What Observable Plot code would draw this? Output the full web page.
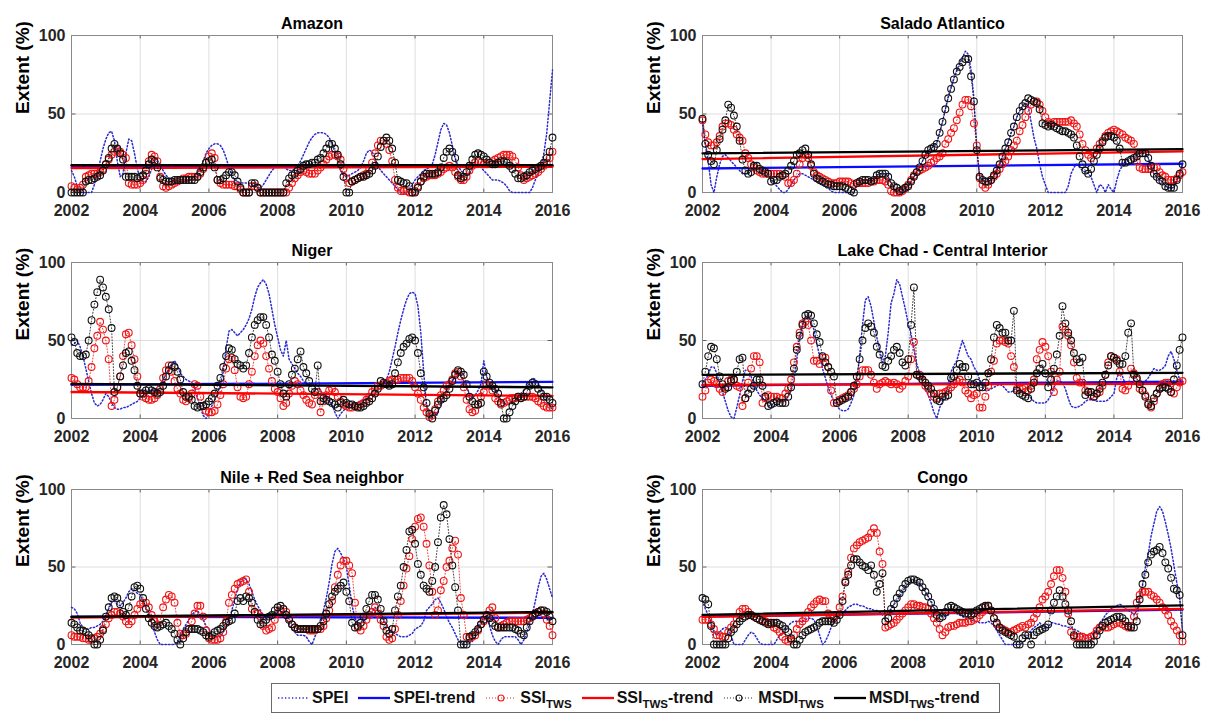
<!DOCTYPE html>
<html>
<head>
<meta charset="utf-8">
<script src="https://cdn.jsdelivr.net/npm/d3@7"></script>
<script src="https://cdn.jsdelivr.net/npm/@observablehq/plot@0.6"></script>
<style>
  body { margin: 0; background: #fff; }
  #chart { position: relative; width: 1214px; height: 719px; background: #fff; overflow: hidden;
           font-family: "Liberation Sans", Arial, Helvetica, sans-serif; }
  .panel { position: absolute; }
  #legend { position: absolute; left: 271px; top: 683px; width: 729px; height: 30px; box-sizing: border-box;
            border: 1px solid #6a6a6a; display: flex; align-items: center; padding-left: 4px;
            font-weight: bold; font-size: 16px; color: #111; white-space: nowrap; }
  #legend .item { display: inline-flex; align-items: center; margin-right: 9px; }
  #legend svg { margin-right: 2px; }
  #legend sub { font-size: 11.5px; vertical-align: -5px; line-height: 0; }
</style>
</head>
<body>
<div id="chart"></div>
<script>
// ---------------- data (monthly, Jan 2002 .. Jan 2016) ----------------
const startYear = 2002;
const yearTicks = [2002, 2004, 2006, 2008, 2010, 2012, 2014, 2016];
const extentTicks = [0, 50, 100];
const panelTitles = ["Amazon", "Salado Atlantico", "Niger", "Lake Chad - Central Interior", "Nile + Red Sea neighbor", "Congo"];

const amazonSPEI = [
14,10,4,0,0,0,0,0,5,12,20,28,
34,38,39,33,20,10,12,25,34,33,25,15,
9,7,7,10,15,19,20,18,14,11,9,8,
7,7,7,7,7,8,9,10,12,15,20,25,
28,30,31,31,30,27,22,16,11,8,7,6,
6,6,6,5,4,3,3,5,8,11,14,16,
17,18,17,15,14,14,15,17,20,24,28,32,
35,37,38,38,38,37,35,31,26,20,14,11,
10,11,12,13,14,16,20,25,27,26,22,17,
14,12,10,8,6,4,2,0,0,0,2,5,
8,10,12,14,15,16,18,24,32,40,44,43,
38,30,22,17,14,12,11,12,15,17,17,16,
14,12,10,8,8,8,7,6,4,1,0,0,
0,0,0,0,0,3,8,12,17,25,38,58,
78];
const amazonSSI = [
4,3,2,3,5,10,11,12,12,12,13,15,
18,21,24,26,27,26,24,22,6,5,5,5,
6,8,12,20,24,23,20,10,4,3,4,5,
6,7,8,9,9,10,10,10,10,12,15,19,
23,25,22,8,6,5,5,5,5,4,4,2,
0,0,0,4,4,3,0,0,0,0,0,0,
0,0,0,0,3,6,9,11,13,14,13,12,
12,12,14,16,18,21,23,24,24,23,21,15,
9,6,7,8,9,10,11,12,15,19,25,30,
33,33,31,27,20,8,3,1,1,1,0,0,
1,4,7,9,10,11,11,11,12,13,15,16,
17,16,13,10,8,8,10,14,17,19,20,19,
18,18,19,20,21,22,23,24,24,24,23,20,
16,11,8,9,10,11,12,13,15,17,19,22,
26];
const amazonMSDI = [
0,0,0,0,0,7,8,8,9,10,11,14,
18,22,28,31,28,25,21,10,10,10,10,9,
10,11,14,18,21,20,16,9,8,7,7,7,
8,8,8,8,8,8,8,8,10,13,16,19,
20,21,16,8,8,9,11,13,13,11,7,3,
0,0,0,6,6,3,0,0,0,0,0,0,
0,0,0,6,9,11,12,14,15,17,18,18,
19,19,21,22,25,28,31,31,28,24,18,10,
0,0,7,8,9,10,10,11,12,14,17,23,
29,33,35,33,28,19,8,7,6,6,4,0,
0,3,7,10,12,12,12,12,13,16,22,26,
28,26,22,11,9,10,13,17,21,24,25,24,
23,21,19,18,18,19,20,20,19,17,15,12,
9,9,10,11,13,14,15,16,17,19,22,26,
35];

const saladoSPEI = [
45,30,20,5,0,10,18,23,24,22,20,18,
16,14,12,12,12,14,16,16,15,14,13,12,
8,6,4,2,0,0,2,5,8,10,12,12,
11,10,9,8,7,6,5,4,3,1,0,0,
0,0,0,0,0,0,4,7,8,8,8,7,
8,11,12,12,12,10,6,3,0,0,1,3,
4,7,10,13,16,20,24,27,28,30,32,38,
45,53,61,67,73,78,82,86,90,88,78,60,
28,10,8,7,7,8,11,14,18,23,28,32,
38,42,48,52,55,57,55,45,35,28,18,10,
5,0,0,0,0,0,0,0,4,12,16,18,
16,14,13,12,10,5,0,5,4,0,5,2,
0,8,14,17,20,21,22,23,24,25,25,25,
22,17,12,10,8,7,4,3,3,3,8,12,
18];
const saladoSSI = [
46,37,32,30,30,32,36,42,44,44,43,40,
37,35,33,25,22,18,16,14,13,12,12,12,
12,12,12,12,11,10,6,6,8,12,18,22,
24,22,17,13,11,10,9,8,7,6,6,6,
7,7,7,7,6,5,6,6,6,6,6,7,
7,8,8,8,7,5,1,0,0,0,1,3,
5,8,11,13,14,15,16,17,19,20,22,23,
25,31,34,38,41,46,51,56,59,59,55,44,
30,9,5,3,5,8,10,12,15,18,20,23,
27,30,33,39,43,48,52,56,58,58,56,52,
48,45,44,45,45,45,45,45,45,46,44,42,
37,31,27,24,22,25,28,31,33,36,38,39,
40,39,38,37,35,34,33,31,20,16,15,15,
15,15,16,16,13,11,10,8,8,8,9,11,
13];
const saladoMSDI = [
47,31,24,20,18,27,34,40,46,56,54,49,
42,33,21,14,12,13,17,17,15,14,13,12,
7,8,8,10,11,12,14,17,20,24,25,27,
28,24,18,12,9,8,7,6,5,5,4,4,
4,4,3,2,1,0,6,7,8,8,8,7,
8,11,12,12,12,10,6,4,3,1,2,3,
4,7,10,13,16,20,24,27,28,29,31,38,
45,53,60,66,72,77,80,83,85,85,74,58,
27,10,8,7,7,8,11,14,18,23,28,32,
38,42,48,52,55,57,60,59,58,57,53,44,
43,42,43,42,41,40,39,39,38,37,35,30,
23,18,14,12,15,20,24,28,32,35,36,36,
35,33,28,19,19,20,21,22,23,25,25,25,
22,17,12,10,8,7,4,3,3,3,8,12,
18];

const nigerSPEI = [
47,48,50,46,40,32,24,16,10,8,9,12,
16,14,10,7,6,6,7,7,8,9,10,11,
13,15,17,18,18,18,20,22,25,28,32,35,
37,34,29,27,25,24,23,20,13,7,2,0,
4,8,12,16,22,30,45,56,57,55,53,55,
57,60,64,70,78,84,87,89,86,80,70,60,
52,44,40,50,38,35,32,29,27,24,22,21,
21,23,21,18,15,13,11,9,4,0,3,5,
7,8,9,10,10,11,12,13,15,17,19,21,
22,23,25,30,38,46,55,63,70,76,80,81,
80,72,55,30,8,1,0,0,4,9,14,18,
21,24,27,30,28,24,20,16,13,15,18,22,
37,27,22,20,18,15,12,10,9,9,10,12,
14,16,18,20,23,26,25,22,19,15,11,8,
6];
const nigerSSI = [
26,25,22,20,20,20,24,33,45,53,62,57,
50,38,8,12,20,27,40,54,55,47,38,27,
16,14,13,12,12,13,15,19,26,31,34,30,
24,19,16,12,11,13,16,22,21,14,8,5,
4,4,5,9,15,22,32,38,39,31,20,14,
13,14,22,30,40,47,50,48,40,32,24,19,
17,13,8,10,16,21,24,22,18,15,12,10,
9,15,17,4,11,15,18,19,17,14,11,9,
8,7,7,8,8,9,10,12,14,17,19,21,
21,22,23,24,25,25,25,26,26,26,26,24,
20,16,12,7,4,1,2,6,11,15,18,21,
22,25,29,30,27,20,12,6,4,5,9,14,
17,22,21,18,13,11,9,10,11,12,13,13,
14,14,14,14,14,14,13,11,10,8,7,7,
7];
const nigerMSDI = [
52,49,42,40,40,41,50,63,73,81,89,84,
78,70,58,17,20,27,34,42,43,37,31,21,
16,16,18,19,18,17,16,17,21,27,31,34,
33,30,25,17,14,14,12,8,7,8,8,9,
11,13,16,21,26,33,40,45,44,38,35,34,
32,34,42,52,60,63,65,65,60,52,41,37,
30,22,16,14,22,28,32,38,43,33,29,24,
19,17,34,11,13,12,11,10,9,7,10,12,
10,9,9,8,7,7,8,10,11,13,16,19,
24,23,22,21,22,29,36,42,46,48,51,52,
50,42,29,20,10,3,0,5,9,12,13,15,
19,24,28,31,30,28,22,14,11,9,9,10,
30,27,23,21,19,16,10,0,0,4,8,11,
14,13,14,17,21,23,22,19,16,14,14,12,
10];

const chadSPEI = [
23,25,28,33,33,29,22,17,11,5,1,0,
7,15,24,31,31,27,22,18,15,13,12,8,
8,10,11,11,12,12,14,18,24,38,50,60,
65,66,62,57,48,40,32,26,20,15,11,8,
6,5,5,6,10,15,25,40,60,76,78,72,
62,52,44,36,40,55,74,80,89,86,78,70,
61,54,44,35,29,24,19,15,10,4,0,7,
11,16,22,30,34,37,44,50,45,40,38,33,
30,25,20,18,18,19,20,21,22,21,19,17,
17,18,20,19,17,16,15,13,11,10,10,10,
10,12,15,20,24,24,23,19,13,8,7,7,
8,9,11,12,12,12,11,11,11,11,12,14,
16,26,30,27,22,22,23,23,22,21,22,24,
26,29,32,31,31,32,34,40,43,38,31,25,
23];
const chadSSI = [
14,18,23,25,24,22,19,17,20,24,25,25,
21,20,8,13,23,32,40,40,36,10,13,15,
14,14,14,13,13,16,19,25,36,46,55,61,
62,60,50,37,37,35,39,39,33,18,10,10,
12,13,14,15,17,19,22,27,31,31,31,28,
23,19,22,23,24,23,22,23,22,19,21,24,
27,38,49,28,28,24,21,19,16,14,13,16,
16,17,18,20,22,24,25,23,18,16,13,15,
16,7,7,14,21,30,37,48,50,50,49,48,
40,33,19,19,19,17,18,21,25,38,44,49,
46,40,30,17,25,30,59,57,53,47,36,26,
23,23,18,17,15,14,16,17,21,28,36,40,
39,38,30,19,18,21,32,29,25,19,18,15,
10,7,11,16,19,22,23,23,17,16,20,23,
24];
const chadMSDI = [
22,30,40,46,45,38,27,22,19,20,24,25,
30,38,39,13,16,19,21,25,25,21,14,8,
9,10,11,10,10,10,14,20,32,44,53,60,
66,67,66,61,54,49,40,36,33,30,27,10,
11,12,13,14,17,21,27,38,50,58,61,59,
55,46,41,34,33,37,40,44,46,42,36,34,
38,60,84,28,27,25,23,21,19,16,12,11,
14,14,15,26,27,31,35,33,33,27,22,22,
23,20,20,23,29,38,52,60,58,55,55,50,
50,69,18,16,15,14,13,19,23,29,32,35,
29,20,25,32,41,53,72,61,55,50,42,38,
36,39,15,17,17,14,16,19,23,28,34,40,
39,37,35,35,40,55,61,28,26,22,18,14,
9,8,13,16,19,20,20,19,17,25,34,44,
52];

const nileSPEI = [
24,23,20,14,11,10,10,11,11,12,13,15,
19,23,27,28,26,25,27,30,34,36,35,33,
32,28,24,20,14,8,3,0,0,0,0,0,
0,2,6,10,13,16,19,21,22,19,16,12,
10,7,5,5,5,8,11,16,22,29,36,40,
43,42,39,34,29,25,22,19,17,18,19,20,
22,21,19,17,13,10,8,6,6,6,5,2,
0,5,9,13,22,30,40,52,60,62,59,55,
50,38,25,17,13,14,15,17,19,21,24,22,
19,16,13,10,8,7,6,5,5,5,6,7,
10,11,12,15,22,24,26,29,30,27,23,18,
14,11,7,3,1,0,0,1,2,6,12,15,
17,19,12,6,2,0,3,5,5,5,5,5,
3,0,3,8,13,20,28,37,44,46,42,36,
30];
const nileSSI = [
6,5,5,5,4,4,3,3,4,5,7,10,
13,17,19,21,21,20,18,15,13,15,19,23,
26,27,27,24,19,15,13,16,24,29,32,31,
27,14,7,6,7,10,15,20,25,25,18,9,
4,3,3,3,4,8,15,27,32,36,39,40,
41,42,34,23,21,20,18,12,9,10,11,16,
20,22,23,21,17,13,11,10,10,10,10,9,
9,9,10,10,12,17,22,28,37,45,51,54,
54,51,46,27,11,9,12,16,19,21,24,20,
16,12,5,3,4,10,19,28,38,49,57,68,
76,81,82,76,65,51,34,19,22,35,41,50,
54,62,67,58,30,19,5,4,5,6,9,13,
15,18,22,24,17,11,12,13,14,15,15,15,
15,15,15,16,17,18,20,21,22,20,16,12,
6];
const nileMSDI = [
14,13,11,9,9,8,6,4,0,0,3,9,
18,24,30,31,30,26,21,19,24,31,37,38,
36,30,23,17,14,12,11,12,13,14,12,10,
7,3,0,4,8,10,10,10,10,9,8,6,
5,6,8,9,10,12,14,15,16,20,28,30,
28,31,30,27,21,16,13,14,16,18,19,22,
24,25,23,19,16,13,11,10,10,10,10,10,
10,10,10,12,15,20,26,31,34,36,38,40,
34,28,14,11,12,14,18,23,28,32,32,29,
23,15,9,7,10,22,31,38,50,61,73,74,
65,52,45,38,36,34,41,50,66,82,90,84,
68,51,37,22,0,0,0,5,6,8,10,13,
16,19,17,14,12,11,11,11,11,11,11,10,
9,7,6,11,15,18,20,21,22,22,21,18,
15];

const congoSPEI = [
28,23,19,14,8,6,8,10,11,10,6,0,
0,0,0,3,6,8,7,4,1,0,0,0,
0,0,3,6,8,10,12,14,15,15,15,15,
16,17,17,16,12,6,0,2,6,11,15,18,
20,21,22,24,25,26,26,25,25,24,23,23,
22,22,21,19,20,21,23,26,28,31,34,37,
39,41,41,40,39,37,34,31,28,24,21,19,
18,18,19,21,21,20,19,18,17,17,16,15,
15,14,14,14,15,14,12,9,6,3,0,0,
0,0,0,0,1,3,6,9,11,12,14,12,
10,11,14,14,13,13,12,12,11,11,10,9,
8,6,4,3,5,8,11,14,16,19,21,23,
24,25,26,25,23,22,21,19,22,30,38,50,
58,70,78,86,89,86,79,71,62,51,40,30,
9];
const congoSSI = [
16,16,16,13,10,6,6,5,5,8,11,13,
17,21,23,23,21,19,18,17,16,16,15,14,
13,11,10,8,5,3,2,3,6,10,13,15,
17,21,24,26,28,29,28,28,20,15,17,19,
24,31,41,47,56,62,64,66,67,68,69,72,
75,72,60,52,11,12,13,14,16,18,20,22,
24,26,26,25,25,24,24,23,20,17,14,10,
6,8,11,12,12,13,14,14,14,15,15,16,
17,19,21,24,25,22,17,13,11,10,9,8,
8,9,10,11,12,11,13,14,17,20,24,29,
31,34,39,44,48,48,43,34,20,8,5,5,
5,5,4,4,5,6,9,11,12,11,11,12,
13,14,14,13,12,11,12,18,27,32,34,34,
34,32,31,29,27,24,22,19,15,12,9,6,
2];
const congoMSDI = [
30,29,26,12,0,0,0,0,0,4,8,10,
13,15,17,18,19,19,18,17,16,15,14,13,
14,14,14,13,12,10,8,4,0,0,3,6,
8,9,10,11,12,14,15,15,15,15,14,16,
19,28,40,45,51,55,55,53,51,50,48,51,
45,34,39,46,15,17,23,26,30,33,36,39,
41,42,42,41,40,37,34,31,27,23,19,17,
18,21,24,25,24,23,22,21,20,20,19,20,
22,23,24,25,25,22,17,14,11,9,8,7,
6,5,0,0,4,6,6,0,6,8,9,10,
11,13,22,27,31,35,31,26,22,15,6,0,
0,0,0,0,0,2,6,9,12,14,15,16,
17,18,18,17,15,12,11,11,15,29,39,45,
53,58,60,61,63,59,53,49,43,36,35,32,
6];

// trend lines: value at 2002 and at 2016
const speiTrends = [[17.0, 17.0], [15.3, 18.3], [21.5, 23.5], [21.0, 23.7], [18.0, 17.2], [18.0, 22.5]];
const ssiTrends  = [[15.6, 16.4], [21.3, 26.2], [17.0, 14.5], [21.6, 22.2], [17.3, 20.5], [17.8, 23.0]];
const msdiTrends = [[17.4, 17.4], [24.9, 27.6], [22.2, 20.0], [28.0, 29.3], [17.8, 21.0], [19.1, 25.2]];

// ---------------- drawing ----------------
const speiSeries = [amazonSPEI, saladoSPEI, nigerSPEI, chadSPEI, nileSPEI, congoSPEI];
const ssiSeries  = [amazonSSI, saladoSSI, nigerSSI, chadSSI, nileSSI, congoSSI];
const msdiSeries = [amazonMSDI, saladoMSDI, nigerMSDI, chadMSDI, nileMSDI, congoMSDI];

const C = { spei: "#2a2ad0", speiTrend: "#0a0aff", ssi: "#f01414", ssiTrend: "#ff0000", msdi: "#111111", msdiTrend: "#000000" };
const FONT = '"Liberation Sans", Arial, Helvetica, sans-serif';

const toRows = arr => arr.map((v, i) => ({ t: startYear + i / 12, v }));
const trendRows = tr => [{ t: yearTicks[0], v: tr[0] }, { t: yearTicks[yearTicks.length - 1], v: tr[1] }];

// layout of panels (position in page and plot-area geometry)
const layout = [
  { left: 0,   top: 0,   width: 600, mL: 71, mR: 48, h: 157 },
  { left: 607, top: 0,   width: 607, mL: 95, mR: 32, h: 157 },
  { left: 0,   top: 227, width: 600, mL: 71, mR: 48, h: 156 },
  { left: 607, top: 227, width: 607, mL: 95, mR: 32, h: 156 },
  { left: 0,   top: 454, width: 600, mL: 71, mR: 48, h: 155 },
  { left: 607, top: 454, width: 607, mL: 95, mR: 32, h: 155 }
];

const chart = document.getElementById("chart");

layout.forEach((L, k) => {
  const spei = toRows(speiSeries[k]), ssi = toRows(ssiSeries[k]), msdi = toRows(msdiSeries[k]);
  const x0 = yearTicks[0], x1 = yearTicks[yearTicks.length - 1];
  const tickLen = 0.13; // years, for inward y tick marks
  const svg = Plot.plot({
    width: L.width,
    height: 35 + L.h + 30,
    marginLeft: L.mL, marginRight: L.mR, marginTop: 35, marginBottom: 30,
    style: { fontFamily: FONT, fontSize: "16px", fontWeight: "bold", color: "#262626", background: "transparent", overflow: "visible" },
    x: { domain: [x0, x1] },
    y: { domain: [extentTicks[0], extentTicks[extentTicks.length - 1]] },
    marks: [
      Plot.gridX(yearTicks, { stroke: "#dedede", strokeOpacity: 1 }),
      Plot.gridY(extentTicks, { stroke: "#dedede", strokeOpacity: 1 }),
      Plot.ruleX(yearTicks, { y1: 0, y2: 2.2, stroke: "#404040", strokeWidth: 0.8 }),
      Plot.ruleX(yearTicks, { y1: 97.8, y2: 100, stroke: "#404040", strokeWidth: 0.8 }),
      Plot.ruleY(extentTicks, { x1: x0, x2: x0 + tickLen, stroke: "#404040", strokeWidth: 0.8 }),
      Plot.ruleY(extentTicks, { x1: x1 - tickLen, x2: x1, stroke: "#404040", strokeWidth: 0.8 }),
      Plot.frame({ stroke: "#8a8a8a" }),
      Plot.axisX(yearTicks, { tickSize: 0, tickPadding: 12, tickFormat: d => String(d), label: null, fill: "#262626" }),
      Plot.axisY(extentTicks, { tickSize: 0, tickPadding: 6, label: null, fill: "#262626" }),
      // SPEI
      Plot.line(spei, { x: "t", y: "v", stroke: C.spei, strokeWidth: 1.5, strokeDasharray: "1.3,2.2" }),
      Plot.line(trendRows(speiTrends[k]), { x: "t", y: "v", stroke: C.speiTrend, strokeWidth: 2.3 }),
      // SSI TWS
      Plot.line(ssi, { x: "t", y: "v", stroke: C.ssi, strokeWidth: 0.8, strokeDasharray: "1,2" }),
      Plot.dot(ssi, { x: "t", y: "v", r: 3.4, stroke: C.ssi, strokeWidth: 1.1 }),
      Plot.line(trendRows(ssiTrends[k]), { x: "t", y: "v", stroke: C.ssiTrend, strokeWidth: 2.3 }),
      // MSDI TWS
      Plot.line(msdi, { x: "t", y: "v", stroke: C.msdi, strokeWidth: 0.8, strokeDasharray: "1,2" }),
      Plot.dot(msdi, { x: "t", y: "v", r: 3.4, stroke: C.msdi, strokeWidth: 1.1 }),
      Plot.line(trendRows(msdiTrends[k]), { x: "t", y: "v", stroke: C.msdiTrend, strokeWidth: 2.3 }),
      // titles
      Plot.text([panelTitles[k]], { frameAnchor: "top", dy: -18, fontSize: 16, fontWeight: "bold", fill: "#000" }),
      Plot.text(["Extent (%)"], { frameAnchor: "left", dx: -49, rotate: -90, fontSize: 19, fontWeight: "bold", fill: "#000" })
    ]
  });
  svg.classList.add("panel");
  svg.style.left = L.left + "px";
  svg.style.top = L.top + "px";
  chart.appendChild(svg);
});

// ---------------- legend ----------------
function swatch(kind, color, marker) {
  const w = 34, h = 14;
  let s = `<svg width="${w}" height="${h}" viewBox="0 0 ${w} ${h}">`;
  if (kind === "dotted") s += `<line x1="2" x2="${w - 2}" y1="7" y2="7" stroke="${color}" stroke-width="${marker ? 0.9 : 1.5}" stroke-dasharray="${marker ? "1,2" : "1.3,2.2"}"/>`;
  else s += `<line x1="1" x2="${w - 1}" y1="7" y2="7" stroke="${color}" stroke-width="2.3"/>`;
  if (marker) s += `<circle cx="${w / 2}" cy="7" r="3" fill="none" stroke="${color}" stroke-width="1.1"/>`;
  return s + `</svg>`;
}
const legendItems = [
  [swatch("dotted", C.spei, false), "SPEI"],
  [swatch("solid", C.speiTrend, false), "SPEI-trend"],
  [swatch("dotted", C.ssi, true), "SSI<sub>TWS</sub>"],
  [swatch("solid", C.ssiTrend, false), "SSI<sub>TWS</sub>-trend"],
  [swatch("dotted", C.msdi, true), "MSDI<sub>TWS</sub>"],
  [swatch("solid", C.msdiTrend, false), "MSDI<sub>TWS</sub>-trend"]
];
const legend = document.createElement("div");
legend.id = "legend";
legend.innerHTML = legendItems.map(([sw, label]) => `<span class="item">${sw}<span>${label}</span></span>`).join("");
chart.appendChild(legend);
</script>
</body>
</html>
